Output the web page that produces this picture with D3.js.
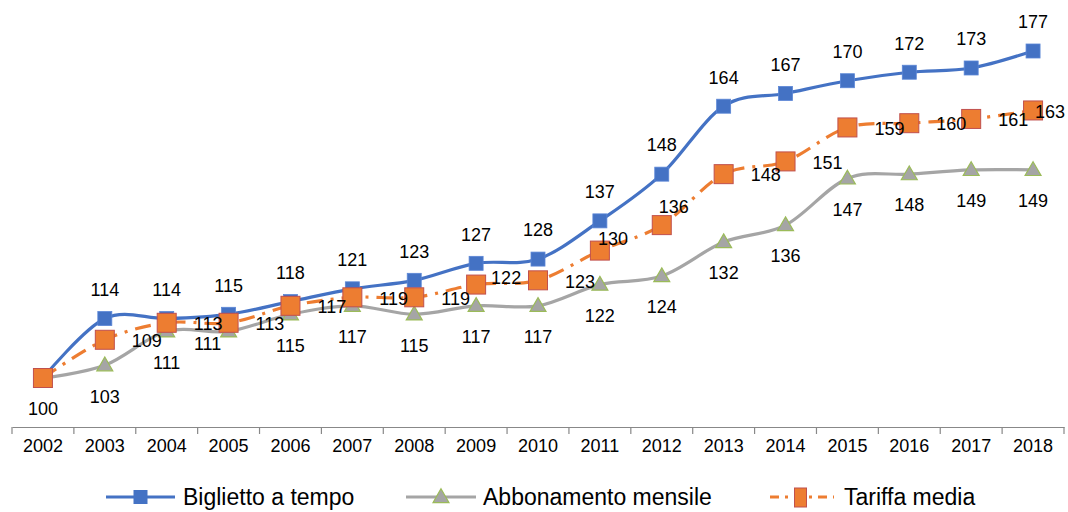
<!DOCTYPE html>
<html><head><meta charset="utf-8">
<script src="https://cdn.jsdelivr.net/npm/d3@7"></script>
<style>
html,body{margin:0;padding:0;background:#fff;}
svg{display:block;font-family:"Liberation Sans",Arial,sans-serif;}
</style></head>
<body><svg id="c" width="1068" height="512"></svg>
<script>
const years = ["2002","2003","2004","2005","2006","2007","2008","2009","2010","2011","2012","2013","2014","2015","2016","2017","2018"];
const biglietto = [100,114,114,115,118,121,123,127,128,137,148,164,167,170,172,173,177];
const abbonamento = [100,103,111,111,115,117,115,117,117,122,124,132,136,147,148,149,149];
const tariffa = [100,109,113,113,117,119,119,122,123,130,136,148,151,159,160,161,163];
const seriesNames = ["Biglietto a tempo","Abbonamento mensile","Tariffa media"];
// labels hidden in the original chart (overlapping at 2002)
const hideBiglietto = [0];
const hideTariffa = [0];
// manual nudges of some labels [dx, dy]
const tariffaNudge = {7:[-12,-8], 9:[-29,-13], 10:[-30,-19]};
const abbonamentoNudge = {3:[-21,-19]};

const W = 1068, H = 512;
const svg = d3.select("#c");
const x = d3.scaleBand().domain(years).range([12,1064]);
const y = d3.scaleLinear().domain([100,177]).range([378,51]);
const cx = d => x(d) + x.bandwidth()/2;
const curve = d3.curveCardinal.tension(0);

// axis
const axisY = y(88.46);
const ax = svg.append("g").attr("transform",`translate(0,${axisY})`)
  .call(d3.axisBottom(x).tickSize(0).tickPadding(12));
ax.select(".domain").attr("stroke","#888").attr("stroke-width",1.2);
ax.selectAll(".tick text").attr("font-size",18).attr("fill","#000")
  .attr("font-family",'"Liberation Sans",Arial,sans-serif');
// boundary ticks
const bounds = years.map(d=>x(d)).concat([x.range()[1]]);
ax.selectAll("line.b").data(bounds).enter().append("line")
  .attr("x1",d=>d).attr("x2",d=>d).attr("y1",0).attr("y2",7)
  .attr("stroke","#888").attr("stroke-width",1.2);

const lineGen = vals => d3.line().x((v,i)=>cx(years[i])).y(v=>y(v)).curve(curve)(vals);

const blue="#4472C4", gray="#A5A5A5", orange="#ED7D31";

// Biglietto
svg.append("path").attr("d",lineGen(biglietto)).attr("fill","none").attr("stroke",blue).attr("stroke-width",3.2);
svg.append("g").selectAll("rect").data(biglietto).enter().append("rect")
  .attr("x",(v,i)=>cx(years[i])-7).attr("y",v=>y(v)-7).attr("width",14).attr("height",14)
  .attr("fill",blue).attr("stroke","#5b86d6").attr("stroke-width",0.8);

// Abbonamento
svg.append("path").attr("d",lineGen(abbonamento)).attr("fill","none").attr("stroke",gray).attr("stroke-width",3.2);
const tri = d3.symbol().type(d3.symbolTriangle).size(110);
svg.append("g").selectAll("path").data(abbonamento).enter().append("path")
  .attr("d",tri).attr("transform",(v,i)=>`translate(${cx(years[i])},${y(v)+1})`)
  .attr("fill",gray).attr("stroke","#9BBB59").attr("stroke-width",1.2);

// Tariffa
svg.append("path").attr("d",lineGen(tariffa)).attr("fill","none").attr("stroke",orange).attr("stroke-width",3.2)
  .attr("stroke-dasharray","16 8 3 8");
svg.append("g").selectAll("rect").data(tariffa).enter().append("rect")
  .attr("x",(v,i)=>cx(years[i])-9.5).attr("y",v=>y(v)-9.5).attr("width",19).attr("height",19)
  .attr("fill",orange).attr("stroke","#C0504D").attr("stroke-width",1);

// labels
const lab = svg.append("g").attr("font-size",18).attr("fill","#000");
biglietto.forEach((v,i)=>{ if(hideBiglietto.includes(i)) return;
  lab.append("text").attr("x",cx(years[i])).attr("y",y(v)-29).attr("text-anchor","middle").attr("dy","0.35em").text(v); });
abbonamento.forEach((v,i)=>{
  const n = abbonamentoNudge[i] || [0,0];
  lab.append("text").attr("x",cx(years[i])+n[0]).attr("y",y(v)+31+n[1]).attr("text-anchor","middle").attr("dy","0.35em").text(v); });
tariffa.forEach((v,i)=>{ if(hideTariffa.includes(i)) return;
  const n = tariffaNudge[i] || [0,0];
  let tx = cx(years[i]) + 27 + n[0];
  tx = Math.min(tx, W - 3 - 30);
  lab.append("text").attr("x",tx).attr("y",y(v)+1+n[1]).attr("text-anchor","start").attr("dy","0.35em").text(v); });

// legend
const leg = svg.append("g").attr("transform","translate(0,497)");
const items = [
  {name:seriesNames[0], x0:106, x1:175, tx:183, color:blue, dash:null, mark:"sq"},
  {name:seriesNames[1], x0:406, x1:476, tx:483, color:gray, dash:null, mark:"tri"},
  {name:seriesNames[2], x0:767, x1:834, tx:844, color:orange, dash:"16 8 3 8", mark:"osq"}
];
items.forEach(it=>{
  const l = leg.append("line").attr("x1",it.x0).attr("x2",it.x1).attr("y1",0).attr("y2",0)
    .attr("stroke",it.color).attr("stroke-width",3.2);
  if(it.dash) l.attr("stroke-dasharray","9 6 3 6").attr("stroke-dashoffset",-3);
  const m = (it.x0+it.x1)/2;
  if(it.mark==="sq") leg.append("rect").attr("x",m-7).attr("y",-7).attr("width",14).attr("height",14).attr("fill",blue);
  if(it.mark==="tri") leg.append("path").attr("d",tri).attr("transform",`translate(${m},1)`).attr("fill",gray).attr("stroke","#9BBB59").attr("stroke-width",1.2);
  if(it.mark==="osq") leg.append("rect").attr("x",m-6).attr("y",-9).attr("width",12).attr("height",19).attr("fill",orange).attr("stroke","#C0504D");
  leg.append("text").attr("x",it.tx).attr("y",0).attr("dy","0.35em").attr("font-size",23).attr("fill","#000").text(it.name);
});
</script></body></html>
